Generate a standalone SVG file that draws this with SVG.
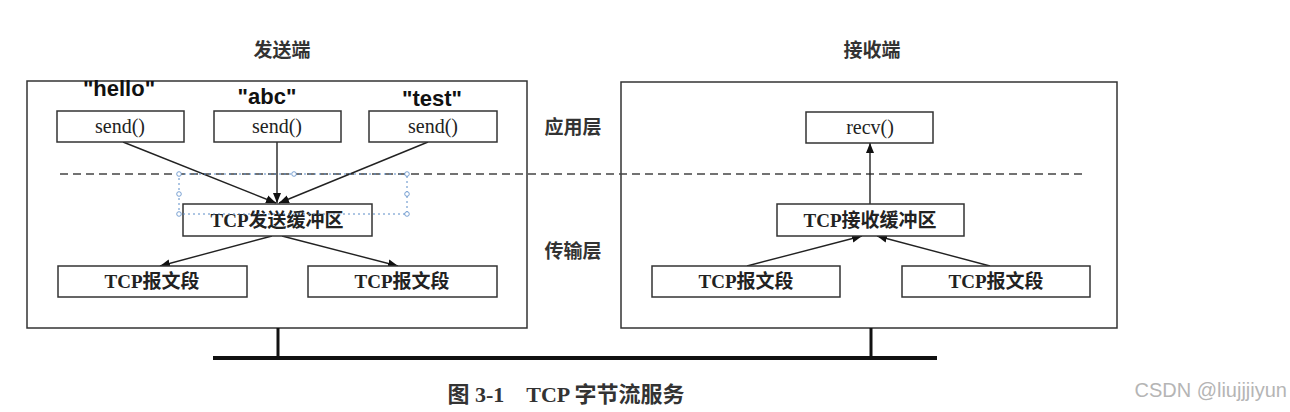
<svg xmlns="http://www.w3.org/2000/svg" width="1290" height="412" viewBox="0 0 1290 412">
<defs>
<marker id="arr" markerUnits="userSpaceOnUse" markerWidth="11" markerHeight="9" refX="10" refY="4.5" orient="auto">
<path d="M0,0.5 L10,4.5 L0,8.5 Z" fill="#111"/>
</marker>
<style>
.frame{fill:none;stroke:#333;stroke-width:1.5}
.box{fill:#fff;stroke:#333;stroke-width:1.5}
.edge{stroke:#222;stroke-width:1.4;fill:none;marker-end:url(#arr)}
.cjk{font-family:"Liberation Serif","Noto Sans CJK SC",serif;font-weight:bold;fill:#222;text-anchor:middle}
.fn{font-family:"Liberation Serif",serif;font-size:20px;fill:#222;text-anchor:middle}
.q{font-family:"Liberation Sans",Arial,sans-serif;font-weight:bold;font-size:22px;fill:#111;text-anchor:middle}
.layer{font-family:"Noto Sans CJK SC",sans-serif;font-weight:bold;font-size:19px;fill:#333;text-anchor:middle}
.sel{fill:none;stroke:#5a8cc8;stroke-width:1;stroke-dasharray:2 3}
.h{fill:#fff;stroke:#5a8cc8;stroke-width:0.8}
</style>
</defs>
<rect width="1290" height="412" fill="#fff"/>

<g id="titles">
<text class="layer" x="282" y="57">发送端</text>
<text class="layer" x="872" y="57">接收端</text>
<text class="layer" x="573" y="134">应用层</text>
<text class="layer" x="573" y="258">传输层</text>
</g>

<g id="sender-frame"><rect class="frame" x="27" y="81" width="500" height="247"/></g>
<g id="receiver-frame"><rect class="frame" x="621" y="82" width="496" height="246"/></g>

<g id="layer-divider"><line x1="60" y1="174" x2="1087" y2="174" stroke="#444" stroke-width="1.5" stroke-dasharray="8 5"/></g>

<g id="network">
<line x1="213" y1="358" x2="937" y2="358" stroke="#111" stroke-width="4"/>
<line x1="278" y1="328" x2="278" y2="358" stroke="#111" stroke-width="3"/>
<line x1="871" y1="328" x2="871" y2="358" stroke="#111" stroke-width="3"/>
</g>

<g id="connectors">
<line class="edge" x1="123" y1="142" x2="276" y2="203"/>
<line class="edge" x1="277" y1="142" x2="277" y2="203"/>
<line class="edge" x1="428" y1="142" x2="279" y2="203"/>
<line class="edge" x1="272" y1="236" x2="160" y2="266"/>
<line class="edge" x1="282" y1="236" x2="398" y2="266"/>
<line class="edge" x1="747" y1="266" x2="862" y2="236"/>
<line class="edge" x1="990" y1="266" x2="877" y2="236"/>
<line class="edge" x1="870" y1="204" x2="870" y2="143"/>
</g>

<g id="send1"><rect class="box" x="57" y="111" width="127" height="31"/><text class="fn" x="120" y="133">send()</text></g>
<g id="send2"><rect class="box" x="214" y="111" width="127" height="31"/><text class="fn" x="277" y="133">send()</text></g>
<g id="send3"><rect class="box" x="369" y="111" width="128" height="31"/><text class="fn" x="433" y="133">send()</text></g>
<g id="label-hello"><text class="q" x="119" y="96">"hello"</text></g>
<g id="label-abc"><text class="q" x="267" y="104">"abc"</text></g>
<g id="label-test"><text class="q" x="432" y="106">"test"</text></g>

<g id="send-buffer"><rect class="box" x="183" y="204" width="189" height="32"/><text class="cjk" x="277" y="227" font-size="19">TCP发送缓冲区</text></g>
<g id="send-seg1"><rect class="box" x="58" y="266" width="189" height="31"/><text class="cjk" x="152" y="288" font-size="19">TCP报文段</text></g>
<g id="send-seg2"><rect class="box" x="308" y="266" width="189" height="31"/><text class="cjk" x="402" y="288" font-size="19">TCP报文段</text></g>

<g id="selection">
<rect class="sel" x="179" y="174" width="228" height="40"/>
<circle class="h" cx="179" cy="174" r="2.3"/><circle class="h" cx="294" cy="174" r="2.3"/><circle class="h" cx="407" cy="174" r="2.3"/>
<circle class="h" cx="179" cy="194" r="2.3"/><circle class="h" cx="407" cy="194" r="2.3"/>
<circle class="h" cx="179" cy="214" r="2.3"/><circle class="h" cx="407" cy="214" r="2.3"/>
</g>

<g id="recv"><rect class="box" x="806" y="112" width="127" height="31"/><text class="fn" x="870" y="134">recv()</text></g>
<g id="recv-buffer"><rect class="box" x="777" y="204" width="187" height="32"/><text class="cjk" x="870" y="227" font-size="19">TCP接收缓冲区</text></g>
<g id="recv-seg1"><rect class="box" x="652" y="266" width="188" height="31"/><text class="cjk" x="746" y="288" font-size="19">TCP报文段</text></g>
<g id="recv-seg2"><rect class="box" x="902" y="266" width="188" height="31"/><text class="cjk" x="996" y="288" font-size="19">TCP报文段</text></g>

<g id="caption"><text x="566" y="402" font-family="Liberation Serif,Noto Sans CJK SC,serif" font-size="22" font-weight="bold" fill="#333" text-anchor="middle" xml:space="preserve">图 3-1    TCP 字节流服务</text></g>
<g id="watermark"><text x="1287" y="397" font-family="Liberation Sans,Arial,sans-serif" font-size="20" fill="#b5b5b5" text-anchor="end">CSDN @liujjjiyun</text></g>
</svg>
